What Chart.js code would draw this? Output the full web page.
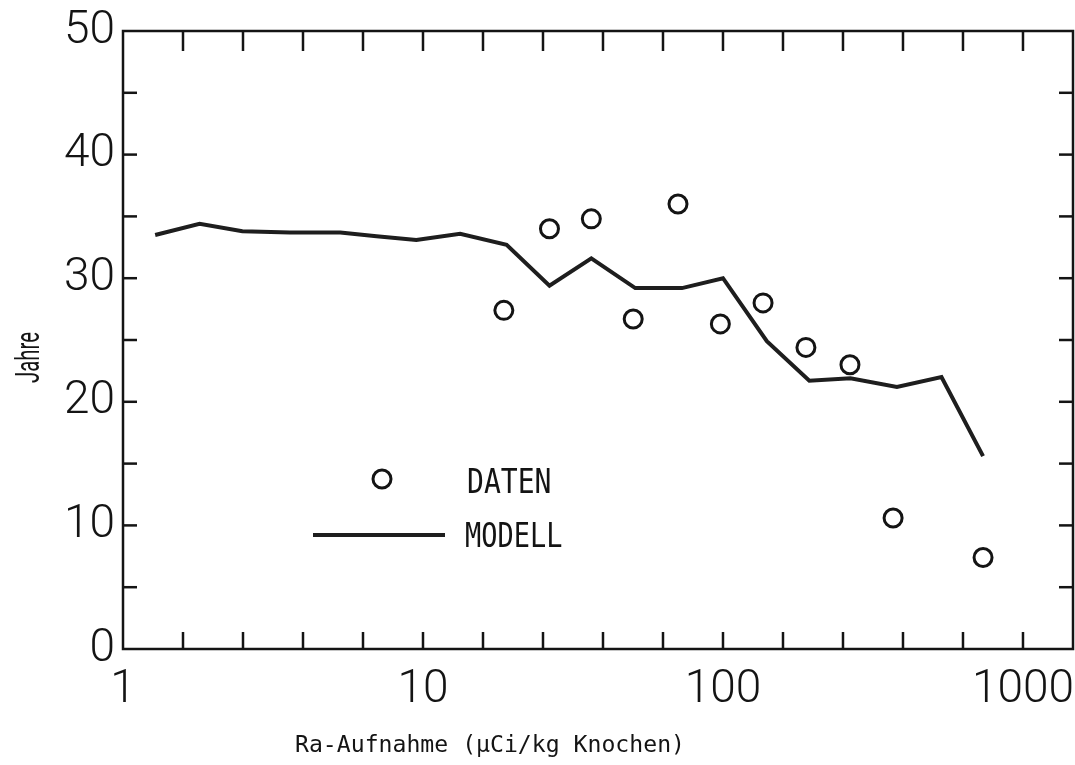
<!DOCTYPE html>
<html>
<head>
<meta charset="utf-8">
<script src="https://cdn.jsdelivr.net/npm/chart.js@4/dist/chart.umd.min.js"></script>
<style>
  html, body { margin: 0; padding: 0; background: #fff; }
  #wrap { width: 1075px; height: 765px; }
</style>
</head>
<body>
<div id="wrap"><canvas id="myChart" width="1075" height="765"></canvas></div>
<script>
// Ra uptake (µCi/kg bone) vs. years
const datenX = [18.6, 26.4, 36.4, 50.2, 70.8, 98, 136, 189, 265, 369, 736];
const datenY = [27.4, 34.0, 34.8, 26.7, 36.0, 26.3, 28.0, 24.4, 23.0, 10.6, 7.4];

const modellX = [1.28, 1.8, 2.5, 3.6, 5.3, 7.0, 9.5, 13.3, 19.0, 26.4, 36.4, 51, 73, 100, 140, 194, 266, 380, 535, 736];
const modellY = [33.5, 34.4, 33.8, 33.7, 33.7, 33.4, 33.1, 33.6, 32.7, 29.4, 31.6, 29.2, 29.2, 30.0, 24.9, 21.7, 21.9, 21.2, 22.0, 15.6];

const xTickLabels = ['1', '10', '100', '1000'];
const yTickLabels = [0, 10, 20, 30, 40, 50];

const xMin = 1;
const xMax = 1468;
const ink = '#141414';

// tick marks every fifth of a decade
const xTickValues = [];
for (let k = 0; k <= 15; k++) xTickValues.push(Math.pow(10, k / 5));

const isDecade = v => Math.abs(Math.log10(v) - Math.round(Math.log10(v))) < 1e-6;

const framePlugin = {
  id: 'frame',
  afterDraw(chart) {
    const { ctx, chartArea: a, scales: { x, y } } = chart;
    const line = (x1, y1, x2, y2) => {
      ctx.beginPath(); ctx.moveTo(x1, y1); ctx.lineTo(x2, y2); ctx.stroke();
    };
    ctx.save();
    ctx.strokeStyle = ink;
    ctx.lineWidth = 2.5;
    ctx.strokeRect(a.left, a.top, a.right - a.left, a.bottom - a.top);

    x.ticks.forEach(t => {
      const px = x.getPixelForValue(t.value);
      if (px <= a.left + 2 || px >= a.right - 2) return;
      line(px, a.bottom, px, a.bottom - 17);
      line(px, a.top, px, a.top + 20);
    });
    y.ticks.forEach(t => {
      const py = y.getPixelForValue(t.value);
      if (py <= a.top + 2 || py >= a.bottom - 2) return;
      line(a.left, py, a.left + 14, py);
      line(a.right, py, a.right - 14, py);
    });

    ctx.fillStyle = ink;
    ctx.textBaseline = 'alphabetic';
    ctx.textAlign = 'left';

    // x axis title
    ctx.font = '23px "DejaVu Sans Mono"';
    const tw = ctx.measureText('Ra-Aufnahme (µCi/kg Knochen)').width;
    ctx.save();
    ctx.translate(295, 752);
    ctx.scale(390 / tw, 1);
    ctx.fillText('Ra-Aufnahme (µCi/kg Knochen)', 0, 0);
    ctx.restore();

    // y axis title, narrow
    ctx.save();
    ctx.translate(39, 383);
    ctx.rotate(-Math.PI / 2);
    ctx.font = '34px Roboto';
    const w = ctx.measureText('Jahre').width;
    ctx.scale(51 / w, 1);
    ctx.fillText('Jahre', 0, 0);
    ctx.restore();

    // legend
    const daten = chart.data.datasets[0];
    const modell = chart.data.datasets[1];
    ctx.lineWidth = daten.borderWidth;
    ctx.beginPath();
    ctx.arc(382, 479, daten.pointRadius, 0, Math.PI * 2);
    ctx.stroke();
    ctx.lineWidth = modell.borderWidth;
    ctx.strokeStyle = modell.borderColor;
    line(313, 535, 445, 535);

    ctx.font = '27px "DejaVu Sans Mono"';
    ctx.save();
    ctx.translate(467, 493);
    ctx.scale(1.04, 1.27);
    ctx.fillText(daten.label, 0, 0);
    ctx.restore();
    ctx.save();
    ctx.translate(465, 547);
    ctx.scale(1, 1.27);
    ctx.fillText(modell.label, 0, 0);
    ctx.restore();

    ctx.restore();
  }
};

const ctx = document.getElementById('myChart').getContext('2d');

const myChart = new Chart(ctx, {
  type: 'scatter',
  data: {
    datasets: [{
      label: 'DATEN',
      data: datenX.map((v, i) => ({ x: v, y: datenY[i] })),
      pointStyle: 'circle',
      pointRadius: 9,
      borderWidth: 3,
      borderColor: ink,
      backgroundColor: 'rgba(0,0,0,0)',
      showLine: false
    }, {
      label: 'MODELL',
      data: modellX.map((v, i) => ({ x: v, y: modellY[i] })),
      showLine: true,
      pointRadius: 0,
      borderWidth: 4,
      borderColor: '#1e1e1e',
      tension: 0
    }]
  },
  options: {
    responsive: false,
    animation: false,
    layout: { autoPadding: false, padding: { top: 31, right: 2, left: 0, bottom: 0 } },
    plugins: {
      legend: { display: false },
      tooltip: { enabled: false }
    },
    scales: {
      x: {
        type: 'logarithmic',
        min: xMin,
        max: xMax,
        grid: { display: false, drawTicks: false },
        border: { display: false },
        afterBuildTicks: s => { s.ticks = xTickValues.map(v => ({ value: v })); },
        afterFit: s => { s.height = 116; s.paddingLeft = 0; s.paddingRight = 0; },
        ticks: {
          autoSkip: false,
          maxRotation: 0,
          padding: 14,
          color: ink,
          font: { family: 'Roboto', size: 46, weight: 300 },
          callback: v => isDecade(v) ? xTickLabels[Math.round(Math.log10(v))] : ''
        }
      },
      y: {
        min: 0,
        max: 50,
        grid: { display: false, drawTicks: false },
        border: { display: false },
        afterFit: s => { s.width = 123; s.paddingTop = 0; s.paddingBottom = 0; },
        ticks: {
          stepSize: 5,
          padding: 8,
          color: ink,
          font: { family: 'Roboto', size: 46, weight: 300 },
          callback: v => yTickLabels.includes(v) ? String(v) : ''
        }
      }
    }
  },
  plugins: [framePlugin]
});
</script>
</body>
</html>
